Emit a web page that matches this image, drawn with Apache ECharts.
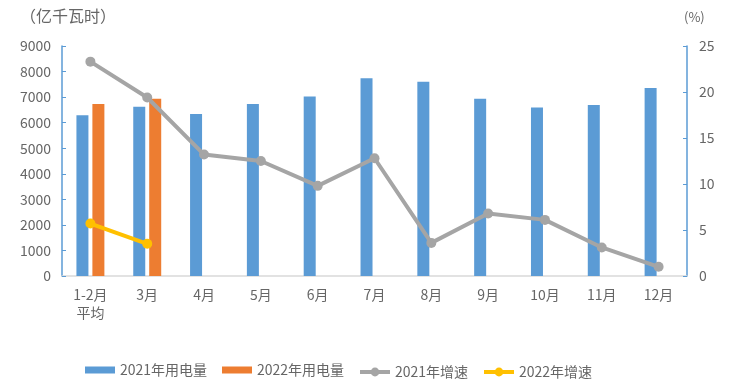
<!DOCTYPE html>
<html><head><meta charset="utf-8">
<script src="https://cdn.jsdelivr.net/npm/echarts@6/dist/echarts.min.js"></script>
<style>html,body{margin:0;padding:0;background:#fff}#c{width:734px;height:386px}</style>
</head><body><div id="c"></div>
<script>
var categories = ['1-2月\n平均','3月','4月','5月','6月','7月','8月','9月','10月','11月','12月'];
var use2021 = [6290, 6620, 6340, 6730, 7020, 7740, 7600, 6940, 6590, 6690, 7355];
var use2022 = [6730, 6940, null, null, null, null, null, null, null, null, null];
var growth2021 = [23.3, 19.4, 13.2, 12.5, 9.8, 12.8, 3.6, 6.8, 6.1, 3.1, 1.0];
var growth2022 = [5.7, 3.5, null, null, null, null, null, null, null, null, null];
var leftTicks = {min: 0, max: 9000, interval: 1000};
var rightTicks = {min: 0, max: 25, interval: 5};
var seriesNames = ['2021年用电量', '2022年用电量', '2021年增速', '2022年增速'];

var FONT = '"Noto Sans CJK SC", "Noto Sans", sans-serif';
var TXT = '#666666';
var legendLefts = [80, 217, 353, 477];
var legends = seriesNames.map(function (n, i) {
  var isBar = i < 2;
  return {
    bottom: isBar ? 4 : 2, left: legendLefts[i], itemWidth: 30, itemHeight: isBar ? 7 : 11,
    itemGap: 0,
    lineStyle: isBar ? undefined : {width: 4},
    textStyle: {color: TXT, fontSize: 14, fontFamily: FONT},
    data: [isBar ? {name: n, icon: 'rect'} : {name: n}]
  };
});
var chart = echarts.init(document.getElementById('c'));
chart.setOption({
  animation: false,
  textStyle: {fontFamily: FONT},
  grid: {left: 62, right: 47, top: 46, bottom: 110},
  graphic: [
    {type: 'text', left: 20, top: 8, style: {text: '（亿千瓦时）', fill: TXT, font: '16px ' + FONT}},
    {type: 'text', left: 684, top: 11, style: {text: '(%)', fill: TXT, font: '13px ' + FONT}}
  ],
  legend: legends,
  xAxis: {
    type: 'category', data: categories,
    axisLine: {lineStyle: {color: '#D9D9D9', width: 1.5}},
    axisTick: {show: false},
    axisLabel: {color: TXT, fontSize: 14, lineHeight: 18, margin: 10, interval: 0}
  },
  yAxis: [
    {type: 'value', min: leftTicks.min, max: leftTicks.max, interval: leftTicks.interval,
     axisLine: {show: true, lineStyle: {color: '#5B9BD5', width: 1.5}},
     axisTick: {show: true, inside: true, length: 4, lineStyle: {color: '#5B9BD5'}},
     splitLine: {show: false},
     axisLabel: {color: TXT, fontSize: 14, margin: 11, formatter: function (v) { return String(v); }}},
    {type: 'value', min: rightTicks.min, max: rightTicks.max, interval: rightTicks.interval,
     axisLine: {show: true, lineStyle: {color: '#5B9BD5', width: 1.5}},
     axisTick: {show: true, inside: true, length: 4, lineStyle: {color: '#5B9BD5'}},
     splitLine: {show: false},
     axisLabel: {color: TXT, fontSize: 14, margin: 12}}
  ],
  series: [
    {name: seriesNames[0], type: 'bar', data: use2021, barWidth: 12, barGap: '33%',
     itemStyle: {color: '#5B9BD5'}},
    {name: seriesNames[1], type: 'bar', data: use2022, barWidth: 12, barGap: '33%',
     itemStyle: {color: '#ED7D31'}},
    {name: seriesNames[2], type: 'line', yAxisIndex: 1, data: growth2021,
     symbol: 'circle', symbolSize: 10,
     lineStyle: {color: '#A5A5A5', width: 4}, itemStyle: {color: '#A5A5A5'}},
    {name: seriesNames[3], type: 'line', yAxisIndex: 1, data: growth2022,
     symbol: 'circle', symbolSize: 10,
     lineStyle: {color: '#FFC000', width: 4}, itemStyle: {color: '#FFC000'}}
  ]
});
</script></body></html>
